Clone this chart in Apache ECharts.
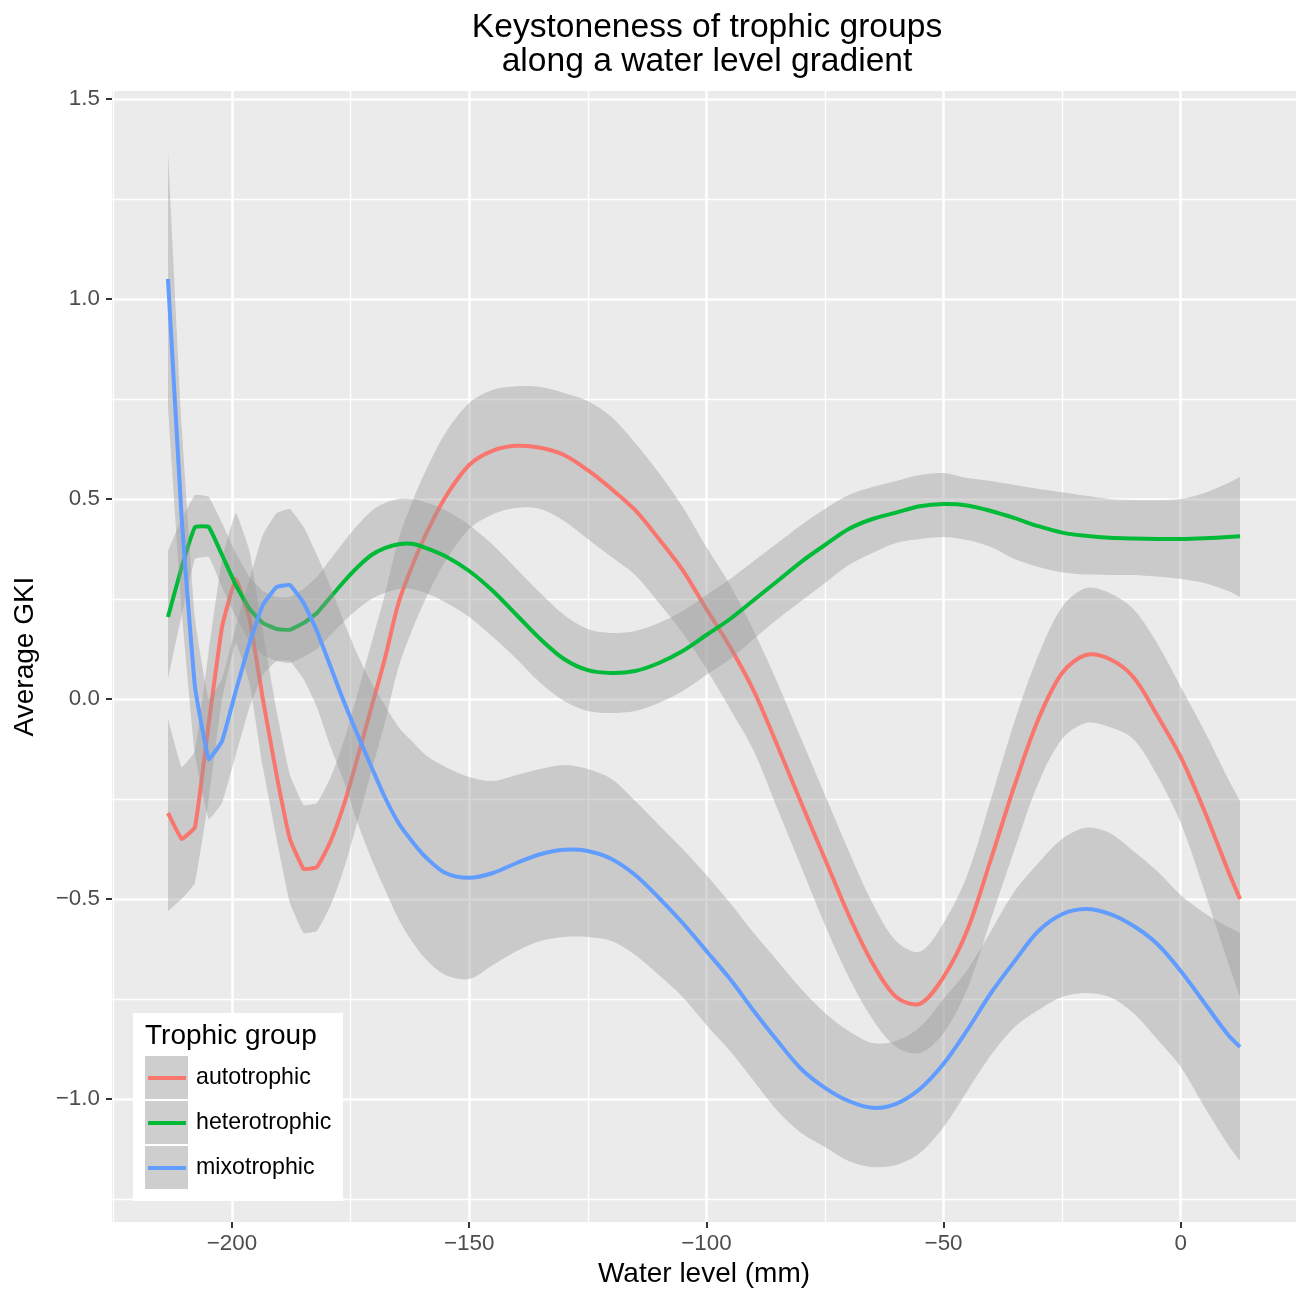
<!DOCTYPE html>
<html>
<head>
<meta charset="utf-8">
<title>Keystoneness of trophic groups</title>
<script src="https://cdn.jsdelivr.net/npm/echarts@6/dist/echarts.min.js"></script>
<style>
  html, body { margin: 0; padding: 0; background: #ffffff; }
  #chart { width: 1296px; height: 1289px; }
</style>
</head>
<body>
<div id="chart"></div>
<script>
// Water level (mm) at which each smoothed curve is evaluated
const waterLevel = [-213.5, -210.6, -207.8, -204.9, -202.1, -199.2, -196.3, -193.5, -190.6, -187.8,
  -184.9, -182.1, -179.2, -176.3, -173.5, -170.6, -167.8, -164.9, -162.1, -159.2,
  -155, -150, -145, -140, -135, -130, -125, -120, -115, -110, -105, -100, -95, -90, -85,
  -80, -75, -70, -65, -60, -55, -50, -45, -40, -35, -30, -25, -20, -15, -10, -5, 0, 5, 10, 12.5];

// autotrophic: smoothed mean GKI and its confidence band
const autoFit = [-0.285, -0.35, -0.32, -0.06, 0.18, 0.30, 0.20, 0.0, -0.19, -0.35,
  -0.425, -0.42, -0.355, -0.26, -0.145, -0.02, 0.10, 0.24, 0.33, 0.41,
  0.505, 0.585, 0.621, 0.633, 0.628, 0.61, 0.572, 0.525, 0.472, 0.40, 0.322, 0.225, 0.13, 0.02, -0.117,
  -0.26, -0.40, -0.54, -0.66, -0.745, -0.762, -0.695, -0.578, -0.40, -0.215, -0.05, 0.065, 0.11, 0.10, 0.055, -0.04, -0.145, -0.28, -0.43, -0.50];
const autoUpper = [-0.05, -0.17, -0.13, 0.12, 0.35, 0.465, 0.37, 0.17, -0.03, -0.19,
  -0.265, -0.26, -0.195, -0.10, 0.015, 0.14, 0.26, 0.40, 0.49, 0.57,
  0.665, 0.74, 0.773, 0.782, 0.78, 0.765, 0.745, 0.705, 0.64, 0.565, 0.48, 0.38, 0.285, 0.17, 0.04,
  -0.10, -0.24, -0.38, -0.51, -0.605, -0.632, -0.56, -0.44, -0.25, -0.055, 0.11, 0.23, 0.2775, 0.265, 0.225, 0.14, 0.03, -0.08, -0.20, -0.255];
const autoLower = [-0.53, -0.50, -0.46, -0.25, 0.0, 0.14, 0.04, -0.17, -0.35, -0.51,
  -0.585, -0.58, -0.515, -0.42, -0.305, -0.18, -0.06, 0.08, 0.17, 0.25,
  0.345, 0.425, 0.462, 0.478, 0.475, 0.445, 0.40, 0.355, 0.31, 0.24, 0.165, 0.075, -0.025, -0.13, -0.275,
  -0.42, -0.565, -0.695, -0.80, -0.87, -0.885, -0.835, -0.725, -0.55, -0.375, -0.21, -0.10, -0.06, -0.07, -0.10, -0.19, -0.31, -0.48, -0.66, -0.745];

// heterotrophic
const heteroFit = [0.205, 0.33, 0.43, 0.43, 0.36, 0.285, 0.225, 0.19, 0.175, 0.173,
  0.19, 0.215, 0.255, 0.295, 0.33, 0.36, 0.377, 0.387, 0.388, 0.378,
  0.357, 0.32, 0.27, 0.21, 0.15, 0.10, 0.072, 0.065, 0.07, 0.09, 0.12, 0.16, 0.20, 0.2475, 0.295,
  0.343, 0.385, 0.425, 0.45, 0.466, 0.482, 0.4875, 0.484, 0.47, 0.452, 0.432, 0.416, 0.408, 0.403, 0.401, 0.40, 0.40, 0.402, 0.405, 0.407];
const heteroUpper = [0.37, 0.45, 0.51, 0.505, 0.44, 0.365, 0.305, 0.27, 0.255, 0.255,
  0.275, 0.305, 0.35, 0.395, 0.435, 0.47, 0.49, 0.50, 0.50, 0.492,
  0.472, 0.435, 0.385, 0.325, 0.265, 0.21, 0.175, 0.165, 0.17, 0.19, 0.22, 0.26, 0.30, 0.345, 0.39,
  0.435, 0.475, 0.51, 0.53, 0.545, 0.56, 0.565, 0.5525, 0.545, 0.535, 0.525, 0.517, 0.508, 0.50, 0.4975, 0.4975, 0.50, 0.515, 0.54, 0.555];
const heteroLower = [0.05, 0.21, 0.35, 0.355, 0.28, 0.205, 0.145, 0.11, 0.095, 0.09,
  0.105, 0.125, 0.16, 0.195, 0.225, 0.25, 0.265, 0.275, 0.275, 0.265,
  0.242, 0.205, 0.155, 0.10, 0.04, -0.005, -0.03, -0.035, -0.03, -0.01, 0.02, 0.06, 0.10, 0.15, 0.20,
  0.245, 0.29, 0.335, 0.365, 0.39, 0.40, 0.405, 0.3975, 0.38, 0.35, 0.33, 0.317, 0.311, 0.31, 0.31, 0.306, 0.30, 0.29, 0.27, 0.255];

// mixotrophic
const mixoFit = [1.05, 0.45, 0.03, -0.15, -0.105, 0.02, 0.14, 0.235, 0.28, 0.285,
  0.24, 0.17, 0.08, -0.01, -0.09, -0.17, -0.245, -0.31, -0.355, -0.395,
  -0.435, -0.447, -0.435, -0.41, -0.388, -0.377, -0.38, -0.40, -0.44, -0.497, -0.56, -0.63, -0.70, -0.78, -0.855,
  -0.925, -0.972, -1.005, -1.022, -1.012, -0.975, -0.912, -0.8275, -0.735, -0.655, -0.58, -0.538, -0.525, -0.537, -0.567, -0.612, -0.68, -0.76, -0.84, -0.87];
const mixoUpper = [1.37, 0.68, 0.20, 0.0, 0.05, 0.18, 0.30, 0.41, 0.465, 0.475,
  0.43, 0.36, 0.28, 0.19, 0.11, 0.04, -0.015, -0.07, -0.105, -0.14,
  -0.17, -0.195, -0.205, -0.19, -0.175, -0.165, -0.175, -0.20, -0.255, -0.315, -0.375, -0.44, -0.51, -0.585, -0.655,
  -0.725, -0.785, -0.83, -0.86, -0.855, -0.82, -0.75, -0.6775, -0.58, -0.48, -0.41, -0.35, -0.322, -0.335, -0.38, -0.43, -0.49, -0.535, -0.57, -0.585];
const mixoLower = [0.73, 0.22, -0.14, -0.30, -0.26, -0.14, -0.02, 0.06, 0.095, 0.095,
  0.05, -0.02, -0.12, -0.21, -0.31, -0.40, -0.475, -0.55, -0.605, -0.65,
  -0.69, -0.70, -0.665, -0.63, -0.605, -0.595, -0.595, -0.605, -0.64, -0.69, -0.745, -0.815, -0.88, -0.955, -1.03,
  -1.085, -1.12, -1.155, -1.17, -1.165, -1.135, -1.07, -0.98, -0.89, -0.82, -0.7775, -0.745, -0.735, -0.745, -0.785, -0.85, -0.92, -1.02, -1.115, -1.155];

// Legend entries and axis tick positions
const groups = ['autotrophic', 'heterotrophic', 'mixotrophic'];
const groupColors = ['#F8766D', '#00BA38', '#619CFF'];
const xTicks = [-200, -150, -100, -50, 0];
const yTicks = [-1.0, -0.5, 0.0, 0.5, 1.0, 1.5];

const FONT = '"Liberation Sans", Arial, Helvetica, sans-serif';
const RIBBON = 'rgba(153,153,153,0.4)';

// Near-straight joins on the sharp left-hand stretch, fuller curvature elsewhere
function smoothAt(i) {
  return waterLevel[i] < -180 ? 0.1 : 0.32;
}

// Bezier control points for a point, given its neighbours
function controlPoints(prev, cur, next, s) {
  const vx = next[0] - prev[0], vy = next[1] - prev[1];
  const lp = Math.hypot(cur[0] - prev[0], cur[1] - prev[1]);
  const ln = Math.hypot(next[0] - cur[0], next[1] - cur[1]);
  const r = (lp + ln) > 0 ? ln / (lp + ln) : 0.5;
  return {
    before: [cur[0] - vx * s * (1 - r), cur[1] - vy * s * (1 - r)],
    after: [cur[0] + vx * s * r, cur[1] + vy * s * r]
  };
}

// Append smooth segments through pts; idx maps each point back to its data index
function smoothSegments(pts, idx, cmds) {
  const n = pts.length;
  const cps = pts.map((p, i) =>
    controlPoints(pts[Math.max(i - 1, 0)], p, pts[Math.min(i + 1, n - 1)], smoothAt(idx[i])));
  for (let i = 0; i < n - 1; i++) {
    const a = cps[i].after, b = cps[i + 1].before, p = pts[i + 1];
    cmds.push('C' + a[0] + ',' + a[1] + ' ' + b[0] + ',' + b[1] + ' ' + p[0] + ',' + p[1]);
  }
}

const forwardIdx = waterLevel.map((x, i) => i);
const backwardIdx = forwardIdx.slice().reverse();

// Confidence ribbon drawn as one closed shape through the axis scales
function ribbonSeries(name, lower, upper, z) {
  return {
    type: 'custom', name: name + ' ribbon', z: z, silent: true,
    coordinateSystem: 'cartesian2d',
    data: [[waterLevel[0], lower[0]]],
    renderItem: function (params, api) {
      const top = waterLevel.map((x, i) => api.coord([x, upper[i]]));
      const bottom = waterLevel.map((x, i) => api.coord([x, lower[i]])).reverse();
      const cmds = ['M' + top[0][0] + ',' + top[0][1]];
      smoothSegments(top, forwardIdx, cmds);
      cmds.push('L' + bottom[0][0] + ',' + bottom[0][1]);
      smoothSegments(bottom, backwardIdx, cmds);
      cmds.push('Z');
      return {
        type: 'path',
        shape: { pathData: cmds.join(' ') },
        style: { fill: RIBBON, stroke: null }
      };
    }
  };
}

// Fitted curve of one group
function curveSeries(name, color, fit, z) {
  return {
    type: 'custom', name: name, z: z, silent: true,
    coordinateSystem: 'cartesian2d',
    itemStyle: { color: color },
    data: [[waterLevel[0], fit[0]]],
    renderItem: function (params, api) {
      const pts = waterLevel.map((x, i) => api.coord([x, fit[i]]));
      const cmds = ['M' + pts[0][0] + ',' + pts[0][1]];
      smoothSegments(pts, forwardIdx, cmds);
      return {
        type: 'path',
        shape: { pathData: cmds.join(' ') },
        style: { fill: 'none', stroke: color, lineWidth: 4, lineJoin: 'round' }
      };
    }
  };
}

const series = [
  ribbonSeries(groups[0], autoLower, autoUpper, 2),
  curveSeries(groups[0], groupColors[0], autoFit, 3),
  ribbonSeries(groups[1], heteroLower, heteroUpper, 4),
  curveSeries(groups[1], groupColors[1], heteroFit, 5),
  ribbonSeries(groups[2], mixoLower, mixoUpper, 6),
  curveSeries(groups[2], groupColors[2], mixoFit, 7)
];

const minus = s => s.replace('-', '\u2212');

const chart = echarts.init(document.getElementById('chart'), null, { renderer: 'canvas' });
chart.setOption({
  animation: false,
  backgroundColor: '#ffffff',
  textStyle: { fontFamily: FONT },
  grid: {
    left: 112, top: 91, right: 0, bottom: 67,
    show: true, backgroundColor: '#EBEBEB', borderWidth: 0,
    containLabel: false, outerBoundsMode: 'none'
  },
  xAxis: {
    type: 'value', min: -225.3, max: 24.3,
    axisLine: { show: false, onZero: false },
    axisTick: { show: true, length: 6, customValues: xTicks, lineStyle: { color: '#333333', width: 2 } },
    axisLabel: {
      customValues: xTicks, margin: 11, color: '#4D4D4D', fontSize: 22.4, fontFamily: FONT,
      formatter: v => minus(String(v))
    },
    splitLine: { show: true, lineStyle: { color: '#ffffff', width: 2.5 } },
    minorTick: { show: false, splitNumber: 2 },
    minorSplitLine: { show: true, lineStyle: { color: '#ffffff', width: 1.3 } },
    name: 'Water level (mm)', nameLocation: 'middle', nameGap: 35,
    nameTextStyle: { color: '#000000', fontSize: 28, fontFamily: FONT }
  },
  yAxis: {
    type: 'value', min: -1.3075, max: 1.52,
    axisLine: { show: false, onZero: false },
    axisTick: { show: true, length: 6, customValues: yTicks, lineStyle: { color: '#333333', width: 2 } },
    axisLabel: {
      customValues: yTicks, margin: 12, color: '#4D4D4D', fontSize: 22.4, fontFamily: FONT,
      formatter: v => minus(Number(v).toFixed(1))
    },
    splitLine: { show: true, lineStyle: { color: '#ffffff', width: 2.5 } },
    minorTick: { show: false, splitNumber: 2 },
    minorSplitLine: { show: true, lineStyle: { color: '#ffffff', width: 1.3 } },
    name: 'Average GKI', nameLocation: 'middle', nameGap: 73,
    nameTextStyle: { color: '#000000', fontSize: 28, fontFamily: FONT }
  },
  legend: {
    data: groups.map((g, i) => ({ name: g, itemStyle: { color: groupColors[i] } })),
    orient: 'vertical', left: 148, top: 1066, padding: 0,
    icon: 'rect', itemWidth: 38, itemHeight: 4, itemGap: 21,
    selectedMode: false, z: 12,
    textStyle: { color: '#000000', fontSize: 23.2, fontFamily: FONT, lineHeight: 24, padding: [0, 0, 0, 5] }
  },
  graphic: [
    {
      type: 'text', x: 707, y: 11, z: 12,
      style: {
        text: 'Keystoneness of trophic groups\nalong a water level gradient',
        font: '33.6px ' + FONT, fill: '#000000', textAlign: 'center', lineHeight: 34
      }
    },
    { type: 'rect', x: 133, y: 1013, z: 10, shape: { width: 210, height: 188 }, style: { fill: '#ffffff' } },
    {
      type: 'text', x: 145, y: 1036, z: 11,
      style: { text: 'Trophic group', font: '28px ' + FONT, fill: '#000000', textVerticalAlign: 'middle' }
    },
    { type: 'rect', x: 145, y: 1056, z: 11, shape: { width: 43, height: 43 }, style: { fill: '#CECECE' } },
    { type: 'rect', x: 145, y: 1101, z: 11, shape: { width: 43, height: 43 }, style: { fill: '#CECECE' } },
    { type: 'rect', x: 145, y: 1146, z: 11, shape: { width: 43, height: 43 }, style: { fill: '#CECECE' } }
  ],
  series: series
});
</script>
</body>
</html>
